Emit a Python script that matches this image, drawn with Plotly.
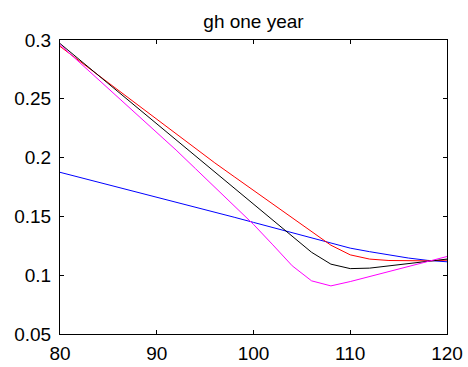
import plotly.graph_objects as go

x = [80, 82, 84, 86, 88, 90, 92, 94, 96, 98, 100, 102, 104, 106, 108, 110, 112, 114, 116, 118, 120]

blue = [0.1875, 0.1833, 0.1791, 0.1749, 0.1708, 0.1667, 0.1624, 0.1580, 0.1537, 0.1493, 0.1449,
        0.1405, 0.1362, 0.1318, 0.1274, 0.1230, 0.1200, 0.1172, 0.1146, 0.1126, 0.1114]
red = [0.2946, 0.2822, 0.2698, 0.2574, 0.2450, 0.2326, 0.2197, 0.2073, 0.1955, 0.1838, 0.1720,
       0.1604, 0.1486, 0.1368, 0.1255, 0.1173, 0.1137, 0.1125, 0.1122, 0.1122, 0.1128]
black = [0.2970, 0.2834, 0.2698, 0.2562, 0.2426, 0.2290, 0.2154, 0.2018, 0.1882, 0.1746, 0.1610,
         0.1474, 0.1338, 0.1195, 0.1094, 0.1056, 0.1060, 0.1078, 0.1095, 0.1115, 0.1137]
magenta = [0.2960, 0.2812, 0.2664, 0.2516, 0.2368, 0.2218, 0.2064, 0.1906, 0.1748, 0.1590, 0.1432,
           0.1258, 0.1080, 0.0952, 0.0909, 0.0946, 0.0988, 0.1030, 0.1073, 0.1116, 0.1159]

xticks = [80, 90, 100, 110, 120]
xticklabels = ["80", "90", "100", "110", "120"]
yticks = [0.05, 0.1, 0.15, 0.2, 0.25, 0.3]
yticklabels = ["0.05", "0.1", "0.15", "0.2", "0.25", "0.3"]

series = [(blue, "#0000ff"), (red, "#ff0000"), (black, "#000000"), (magenta, "#ff00ff")]

fig = go.Figure()
for ys, c in series:
    fig.add_trace(go.Scatter(x=x, y=ys, mode="lines", line=dict(color=c, width=1), showlegend=False))

font = "Liberation Sans, Arial, Helvetica, sans-serif"
axis_common = dict(showgrid=False, zeroline=False, showline=True, linecolor="black", linewidth=1,
                   mirror="ticks", ticks="inside", ticklen=4, tickcolor="black", tickwidth=1,
                   automargin=False,
                   tickfont=dict(family=font, size=19, color="black"))

fig.update_layout(
    width=468, height=367,
    margin=dict(l=60, r=21, t=40, b=33),
    paper_bgcolor="white", plot_bgcolor="white",
    title=dict(text="gh one year", font=dict(family=font, size=19, color="black"),
               x=0.5, xref="paper", xanchor="center", y=1 - 21 / 367, yref="container", yanchor="middle"),
    xaxis=dict(range=[80, 120], tickvals=xticks, ticktext=xticklabels, ticklabelstandoff=2, **axis_common),
    yaxis=dict(range=[0.05, 0.3], tickvals=yticks, ticktext=yticklabels, ticklabelstandoff=4, **axis_common),
)

fig.write_html("out.html")
